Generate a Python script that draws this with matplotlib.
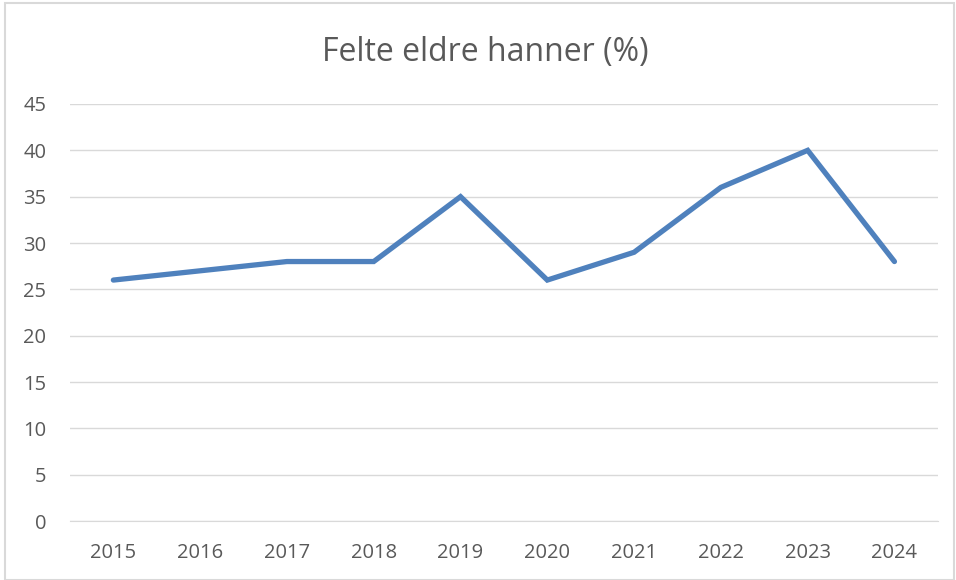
import matplotlib.pyplot as plt
from matplotlib.patches import Rectangle

years = ["2015", "2016", "2017", "2018", "2019", "2020", "2021", "2022", "2023", "2024"]
values = [26, 27, 28, 28, 35, 26, 29, 36, 40, 28]

plt.rcParams['font.family'] = ['Open Sans', 'DejaVu Sans']
text_color = "#595959"

fig = plt.figure(figsize=(9.56, 5.8), dpi=100)
ax = fig.add_axes([0.0732, 0.1017, 0.9078, 0.719])

ax.plot(range(len(years)), values, color="#4F81BD", linewidth=3.8, solid_capstyle="round", solid_joinstyle="miter")
ax.set_xlim(-0.5, len(years) - 0.5)
ax.set_ylim(0, 45)
ax.set_yticks(range(0, 46, 5))
ax.set_xticks(range(len(years)))
ax.set_xticklabels(years)
ax.grid(axis="y", color="#D9D9D9", linewidth=1)
ax.set_axisbelow(True)
for side in ["top", "right", "left"]:
    ax.spines[side].set_visible(False)
ax.spines["bottom"].set_color("#D9D9D9")
ax.tick_params(axis="both", length=0, labelsize=14.5, colors=text_color)
ax.tick_params(axis="x", pad=16)
ax.tick_params(axis="y", pad=17)

fig.text(0.508, 0.91, "Felte eldre hanner (%)", ha="center", va="center", fontsize=23, color=text_color)
fig.patches.append(Rectangle((0.005, 0.0), 0.993, 0.995, transform=fig.transFigure,
                             fill=False, edgecolor="#D9D9D9", linewidth=1.5))

fig.savefig("out.png", dpi=100)
